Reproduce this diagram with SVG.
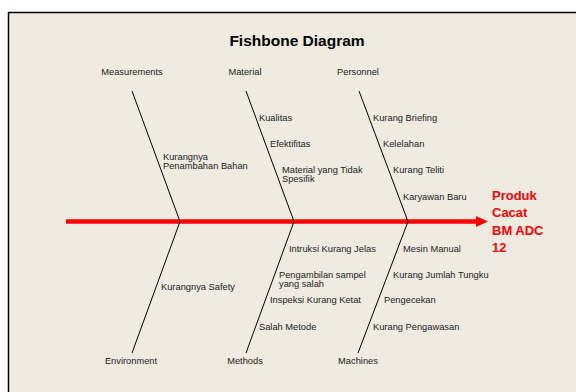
<svg xmlns="http://www.w3.org/2000/svg" width="576" height="392" viewBox="0 0 576 392">
<defs>
<style>
.bg{fill:#EFEBE1;stroke:#000;stroke-width:1.5}
.t{font-family:"Liberation Sans",Arial,sans-serif;font-size:9.3px;fill:#222}
.c{text-anchor:middle}
.title{font-family:"Liberation Sans",Arial,sans-serif;font-size:15.5px;font-weight:bold;fill:#000;text-anchor:middle}
.eff{font-family:"Liberation Sans",Arial,sans-serif;font-size:13px;font-weight:bold;fill:#FF0000}
.bone{stroke:#000;stroke-width:1;fill:none}
.spine{stroke:#FF0000;stroke-width:4.5;fill:none}
</style>
</defs>
<rect class="bg" x="8.5" y="12.5" width="600" height="400"/>
<text class="title" x="297" y="46">Fishbone Diagram</text>
<g id="connectors">
<line class="spine" x1="66" y1="221.5" x2="479" y2="221.5"/>
<polygon points="476,216 488,221.5 476,227" fill="#FF0000"/>
<polyline class="bone" points="132,91 180,221.5 132,353"/>
<polyline class="bone" points="246,91 294,221.5 246,353"/>
<polyline class="bone" points="359,91 408,221.5 358,353"/>
</g>
<g id="measurements">
<text class="t c" x="132" y="75">Measurements</text>
<text class="t" x="163" y="160">Kurangnya</text>
<text class="t" x="163" y="169">Penambahan Bahan</text>
</g>
<g id="material">
<text class="t c" x="245" y="75">Material</text>
<text class="t" x="259" y="121">Kualitas</text>
<text class="t" x="270" y="147">Efektifitas</text>
<text class="t" x="282" y="173">Material yang Tidak</text>
<text class="t" x="282" y="182">Spesifik</text>
</g>
<g id="personnel">
<text class="t c" x="358" y="75">Personnel</text>
<text class="t" x="373" y="121">Kurang Briefing</text>
<text class="t" x="383" y="147">Kelelahan</text>
<text class="t" x="393" y="173">Kurang Teliti</text>
<text class="t" x="403" y="200">Karyawan Baru</text>
</g>
<g id="effect">
<text class="eff" x="492" y="200">Produk</text>
<text class="eff" x="492" y="217">Cacat</text>
<text class="eff" x="492" y="235">BM ADC</text>
<text class="eff" x="492" y="252">12</text>
</g>
<g id="environment">
<text class="t c" x="131" y="364">Environment</text>
<text class="t" x="161" y="290">Kurangnya Safety</text>
</g>
<g id="methods">
<text class="t c" x="245" y="364">Methods</text>
<text class="t" x="289" y="252">Intruksi Kurang Jelas</text>
<text class="t" x="279" y="278">Pengambilan sampel</text>
<text class="t" x="279" y="287">yang salah</text>
<text class="t" x="270" y="303">Inspeksi Kurang Ketat</text>
<text class="t" x="259" y="330">Salah Metode</text>
</g>
<g id="machines">
<text class="t c" x="358" y="364">Machines</text>
<text class="t" x="403" y="252">Mesin Manual</text>
<text class="t" x="393" y="278">Kurang Jumlah Tungku</text>
<text class="t" x="384" y="303">Pengecekan</text>
<text class="t" x="373" y="330">Kurang Pengawasan</text>
</g>
</svg>
